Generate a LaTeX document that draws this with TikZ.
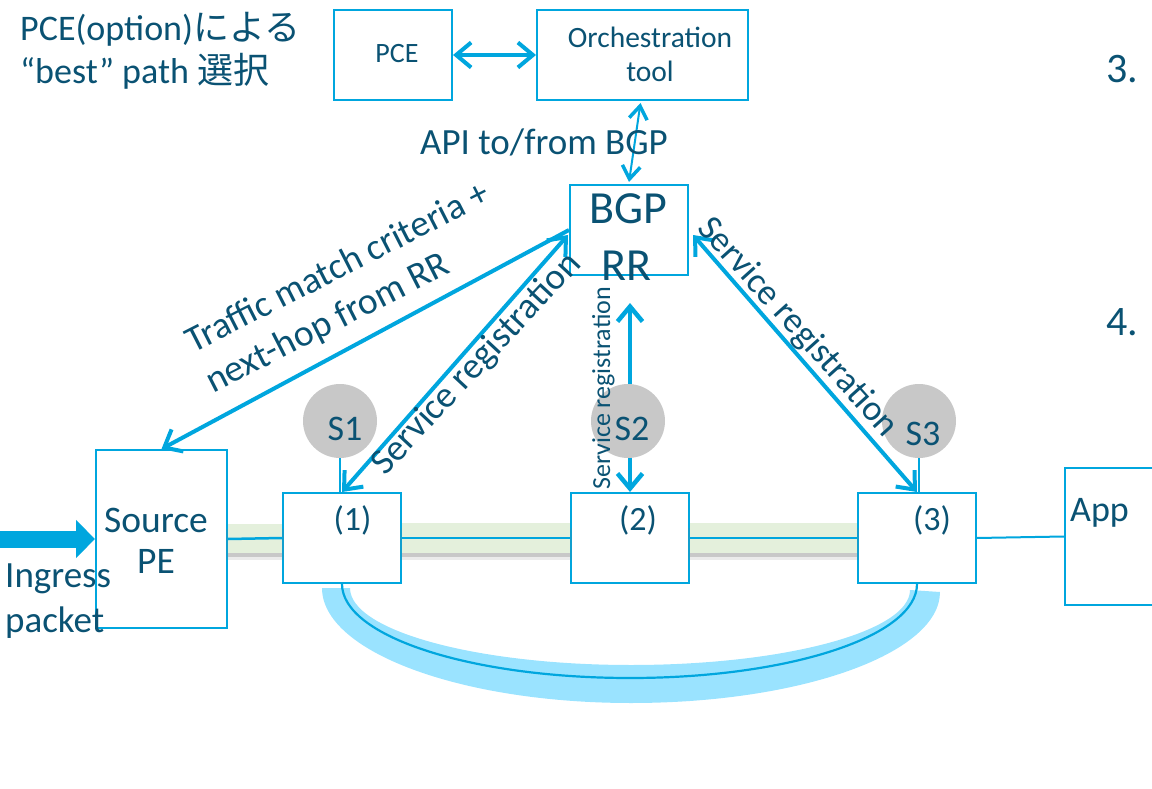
\documentclass[tikz,border=0pt]{standalone}
\usepackage{fontspec}
\setmainfont{Carlito}
\newfontfamily\jpfont{Noto Sans CJK JP}
\usetikzlibrary{arrows.meta,calc}
\definecolor{wire}{RGB}{0,166,222}
\definecolor{ink}{RGB}{10,82,115}
\definecolor{halo}{RGB}{154,227,255}
\definecolor{linkgreen}{RGB}{228,240,220}
\definecolor{linkshade}{RGB}{120,120,120}
\definecolor{svcgray}{RGB}{200,200,200}
\newcommand\fsz[1]{\fontsize{#1}{#1}\selectfont}

\begin{document}
\begin{tikzpicture}[x=1pt,y=-1pt,
  box/.style={draw=wire, line width=2pt, fill=white, rectangle, inner sep=0pt},
  svc/.style={circle, fill=svcgray, minimum size=74pt, inner sep=0pt},
  lbl/.style={text=ink, inner sep=0pt},
  fat/.style={draw=wire, line width=4pt},
  thin/.style={draw=wire, line width=2pt},
  twohead/.style={arrows={Straight Barb[length=15pt,width=25pt]-Straight Barb[length=15pt,width=25pt]}},
  onehead/.style={arrows={-Straight Barb[length=15pt,width=25pt]}}
]
\useasboundingbox (0,0) rectangle (1152,789);
\clip (0,0) rectangle (1152,789);

% ---- boxes ----
\node[box, minimum width=118pt, minimum height=90pt] (pce)  at (393,55) {};
\node[box, minimum width=211pt, minimum height=90pt] (orch) at (642.5,55) {};
\node[box, minimum width=118pt, minimum height=90pt] (bgp)  at (629,230) {};
\node[box, minimum width=131pt, minimum height=178pt] (src) at (161.5,539) {};
\node[box, minimum width=118pt, minimum height=90pt] (b1) at (342,538) {};
\node[box, minimum width=118pt, minimum height=90pt] (b2) at (630,538) {};
\node[box, minimum width=118pt, minimum height=90pt] (b3) at (917,538) {};
\node[box, minimum width=95pt, minimum height=137pt] (app) at (1112.5,536.5) {};

% ---- data-plane links between the boxes (green band with a soft shadow) ----
\foreach \a/\b in {src/b1, b1/b2, b2/b3}{
  \fill[linkshade, opacity=0.15] ($(\a.east)+(-2,-10)$) rectangle ($(\b.west)+(2,22)$);
  \fill[linkshade, opacity=0.3] ($(\a.east)+(0,-12)$) rectangle ($(\b.west)+(0,19)$);
  \fill[linkgreen] ($(\a.east)+(0,-15)$) rectangle ($(\b.west)+(0,15)$);
  \draw[wire, line width=2.5pt] (\a.east) -- (\b.west);
}
\draw[thin] (b3.east) -- (app.west);

% ---- service chain path from (1) to (3) ----
\fill[halo] (322,588) .. controls (322,651.5) and (460.3,703) .. (631,703)
  .. controls (801.7,703) and (940,653.3) .. (940,592) -- (910,590)
  .. controls (910,631.4) and (785.1,665) .. (631,665)
  .. controls (475.8,665) and (350,630.5) .. (350,588) -- cycle;
\coordinate (arcbottom) at (630,678);
\draw[wire, line width=2.2pt] (b1.south) .. controls ($(b1.south)+(0,52.5)$) and (471,678) .. (arcbottom)
  .. controls (788.5,678) and ($(b3.south)+(0,52.5)$) .. (b3.south);

% ---- ingress packet ----
\coordinate (ingress) at (0,539);
\draw[wire, line width=17pt, arrows={-Triangle[length=19pt,width=37pt]}] (ingress) -- (src.west);

% ---- control-plane arrows ----
\draw[fat, twohead] (pce.east) -- (orch.west);
\draw[wire, line width=2pt, arrows={Straight Barb[length=13pt,width=18pt,line width=3.5pt]-Straight Barb[length=13pt,width=18pt,line width=3.5pt]}]
  ($(orch.south)+(-2,2)$) -- ($(bgp.north)+(0,-2)$);
\draw[fat, onehead] (bgp.west) -- (src.north);
\draw[fat, twohead] ($(bgp.west)+(-1,5)$) -- (b1.north);
\coordinate (rrfoot) at (630,303);
\draw[fat, line width=4.5pt, twohead] (rrfoot) -- (b2.north);
\draw[fat, twohead] ($(bgp.east)+(4,5)$) -- (b3.north);

% ---- service instances ----
\node[svc] (s1) at (340,421) {};
\node[svc] (s2) at (628,421) {};
\node[svc] (s3) at (919,421) {};
\draw[thin] (s1.south) -- (s1.south |- b1.north);
\draw[thin] (s3.south) -- (s3.south |- b3.north);

% ---- texts ----
\node[lbl, anchor=base west] (title1) at (20,41) {\fsz{36}PCE(option){\jpfont による}};
\node[lbl, anchor=base west] (title2) at (20,84) {\fsz{36}“best” path {\jpfont 選択}};
\node[lbl, anchor=base] (pcet) at (397,63) {\fsz{28}PCE};
\node[lbl, anchor=base] (orcht1) at (650,48) {\fsz{29.5}Orchestration};
\node[lbl, anchor=base] (orcht2) at (650,82) {\fsz{29.5}tool};
\node[lbl, anchor=base] (api) at (544,155) {\fsz{37}API to/from BGP};
\node[lbl, anchor=base] (bgpt1) at (628.5,223) {\fsz{46}BGP};
\node[lbl, anchor=base] (bgpt2) at (626.5,280) {\fsz{46}RR};
\node[lbl, anchor=base, rotate=27] (traffic1) at (342.5,277.5) {\fsz{37}Traffic match criteria +};
\node[lbl, anchor=base, rotate=27] (traffic2) at (332.5,333) {\fsz{37.5}next-hop from RR};
\node[lbl, anchor=base, rotate=47] (srleft) at (484,371) {\fsz{37}Service registration};
\node[lbl, anchor=base, rotate=-48] (srright) at (790.5,334) {\fsz{36}Service registration};
\node[lbl, anchor=base, rotate=90] (srmid) at (610,388.5) {\fsz{26}Service registration};
\node[lbl, anchor=base] (s1t) at (345,440) {\fsz{36}S1};
\node[lbl, anchor=base] (s2t) at (632,440) {\fsz{36}S2};
\node[lbl, anchor=base] (s3t) at (923,445) {\fsz{36}S3};
\node[lbl, anchor=base] (srct1) at (156,532) {\fsz{37.5}Source};
\node[lbl, anchor=base] (srct2) at (156,573) {\fsz{37.5}PE};
\node[lbl, anchor=base west] (ingt1) at (5,587) {\fsz{37}Ingress};
\node[lbl, anchor=base west] (ingt2) at (5,632) {\fsz{37}packet};
\node[lbl, anchor=base] (b1t) at (352.5,530) {\fsz{34}(1)};
\node[lbl, anchor=base] (b2t) at (638,530) {\fsz{34}(2)};
\node[lbl, anchor=base] (b3t) at (932,530) {\fsz{34}(3)};
\node[lbl, anchor=base west] (appt) at (1070,521) {\fsz{36}App};
\node[lbl, anchor=base west] (step3) at (1106,83) {\fsz{42}3.};
\node[lbl, anchor=base west] (step4) at (1106,335) {\fsz{42}4.};
\end{tikzpicture}
\end{document}
